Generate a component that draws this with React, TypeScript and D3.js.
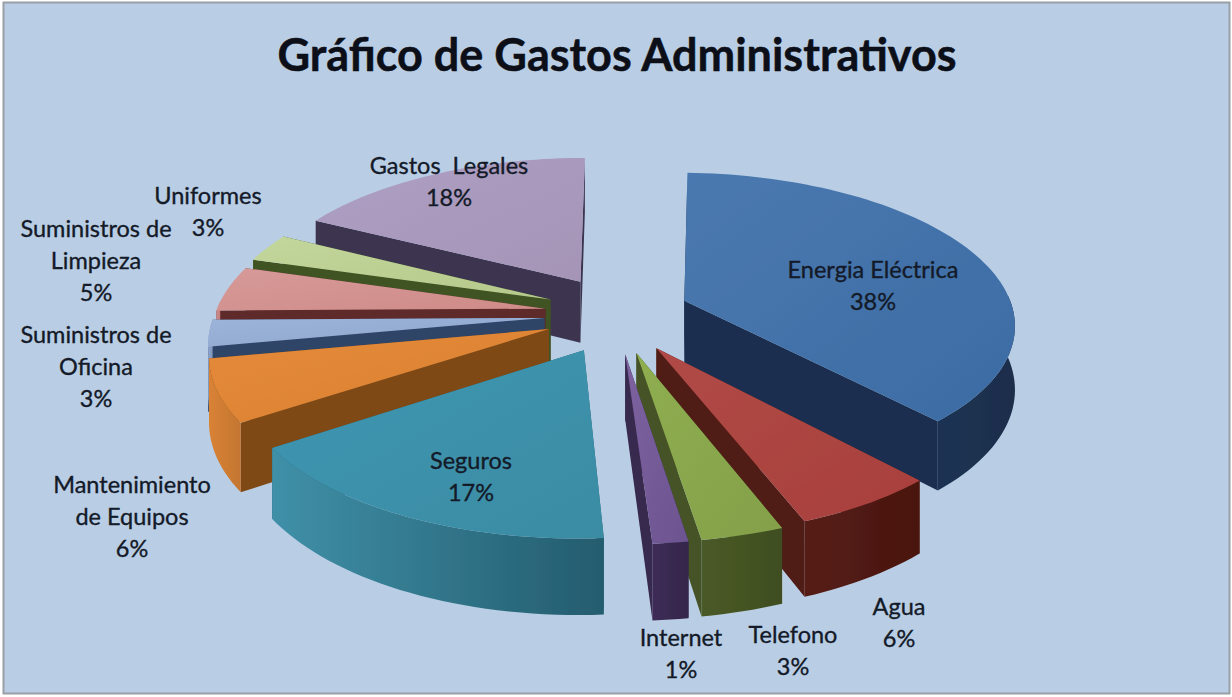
import React from "react";
import * as d3 from "d3";

const W = 1232, H = 697;
const title = "Gráfico de Gastos Administrativos";
const categories = ["Energia Eléctrica","Agua","Telefono","Internet","Seguros","Mantenimiento de Equipos","Suministros de Oficina","Suministros de Limpieza","Uniformes","Gastos Legales"];
const values = [37.8, 6.0, 3.4, 1.45, 16.7, 6.5, 2.8, 4.8, 3.05, 17.5];
const percentLabels = ["38%","6%","3%","1%","17%","6%","3%","5%","3%","18%"];
const labelLines = [["Energia Eléctrica"],["Agua"],["Telefono"],["Internet"],["Seguros"],["Mantenimiento","de Equipos"],["Suministros de","Oficina"],["Suministros de","Limpieza"],["Uniformes"],["Gastos  Legales"]];
const labelAnchors = [[873,278],[899,615],[793,643],[681,646],[471,469],[132,493],[96,343],[96,237],[208,204],[449,174]];
const topColors = [["#4a79b0","#3c6ba3"],["#b04a46","#a8403d"],["#8fae50","#84a04a"],["#7d62a0","#6c5490"],["#3f96b2","#3a8ca3"],["#e58a38","#d98134"],["#9cb3da","#8ea5cc"],["#d69a98","#cf8b88"],["#c3d69b","#b5c98c"],["#ad9fc4","#a594b6"]];
const wallColors = ["#1a2f4f","#4f1a14","#445325","#38294f","#256274","#7f4a17","#2f4468","#5e2a2a","#3f5224","#3d3550"];
const outerColors = [["#1a3254","#1a2e4a"],["#561c14","#4a1710"],["#4a5a26","#3f4e20"],["#3d2c56","#35264a"],["#3f90a8","#245c6e"],["#d88236","#c47630"],["#8ea5cc","#7f95bd"],["#cf8b88","#c07e7c"],["#b5c98c","#a5b87e"],["#a594b6","#9485a6"]];

const deg = Math.PI / 180;
const cx = 617, cy = 314, R = 330, tiltR = 150, D = 7, depth = 63, explodeX = 0.22, explodeY = 0.26;
const pieGen = d3.pie<number>().sort(null).value(d => d).startAngle(2.3 * deg).endAngle(360 * deg);
const arcs = pieGen(values);

type Pt = [number, number];
function project(gx: number, gy: number, h: number): Pt {
  const s = D / (D + gy);
  return [cx + gx * s * R, cy - tiltR * gy * s + h * depth * s];
}
const line = d3.line<Pt>().x(p => p[0]).y(p => p[1]);

export default function App() {
  const slices = arcs.map((a, i) => {
    const mid = (a.startAngle + a.endAngle) / 2;
    const ox = Math.sin(mid) * explodeX, oy = Math.cos(mid) * explodeY;
    const pt = (t: number, r: number, h: number) => project(ox + r * Math.sin(t), oy + r * Math.cos(t), h);
    const n = Math.max(4, Math.ceil((a.endAngle - a.startAngle) / 0.03));
    const ts = d3.range(n + 1).map(k => a.startAngle + (a.endAngle - a.startAngle) * k / n);
    const top: Pt[] = [pt(0, 0, 0), ...ts.map(t => pt(t, 1, 0))];
    const frontTs = ts.filter(t => Math.cos(t) <= 0.05);
    const outer: Pt[] = [...frontTs.map(t => pt(t, 1, 0)), ...frontTs.slice().reverse().map(t => pt(t, 1, 1))];
    const wallAt = (t: number): Pt[] => [pt(0, 0, 0), pt(t, 1, 0), pt(t, 1, 1), pt(0, 0, 1)];
    const xs = outer.map(p => p[0]);
    const rightSide = mid < Math.PI;
    return { i, mid, top, outer, hidden: wallAt(rightSide ? a.startAngle : a.endAngle), shown: wallAt(rightSide ? a.endAngle : a.startAngle), x0: d3.min(xs) ?? 0, x1: d3.max(xs) ?? 1 };
  });
  const order = slices.slice().sort((p, q) => Math.cos(q.mid) - Math.cos(p.mid));
  return (
    <svg width={W} height={H} style={{ position: "absolute", left: 0, top: 0, display: "block" }} fontFamily="Lato, Carlito, sans-serif">
      <defs>
        <filter id="soft" x="-5%" y="-5%" width="110%" height="110%"><feGaussianBlur stdDeviation="0.7" /></filter>
        {slices.map(s => (
          <React.Fragment key={s.i}>
            <linearGradient id={`t${s.i}`} x1="0" y1="0" x2="1" y2="1">
              <stop offset="0" stopColor={topColors[s.i][0]} />
              <stop offset="1" stopColor={topColors[s.i][1]} />
            </linearGradient>
            <linearGradient id={`o${s.i}`} gradientUnits="userSpaceOnUse" x1={s.x0} y1="0" x2={s.x1} y2="0">
              <stop offset="0" stopColor={outerColors[s.i][0]} />
              <stop offset="1" stopColor={outerColors[s.i][1]} />
            </linearGradient>
          </React.Fragment>
        ))}
      </defs>
      <rect x="0" y="0" width={W} height={H} fill="#ffffff" />
      <rect x="3.5" y="2.5" width={W - 6} height={H - 6} fill="#b9cee5" stroke="#9a9fa6" strokeWidth="2" />
      <g filter="url(#soft)">
        {order.map(s => (
          <g key={s.i}>
            <path d={line(s.hidden)! + "Z"} fill={wallColors[s.i]} />
            <path d={line(s.shown)! + "Z"} fill={wallColors[s.i]} />
            {s.outer.length > 2 && <path d={line(s.outer)! + "Z"} fill={`url(#o${s.i})`} />}
            <path d={line(s.top)! + "Z"} fill={`url(#t${s.i})`} />
          </g>
        ))}
      </g>
      <text x={617} y={71} textAnchor="middle" fontSize={45} fontWeight={700} fill="#0c0f18" stroke="#0c0f18" strokeWidth={0.5}>{title}</text>
      {categories.map((c, i) => {
        const [x, y] = labelAnchors[i];
        const lines = [...labelLines[i], percentLabels[i]];
        return (
          <text key={c} x={x} y={y} textAnchor="middle" fontSize={23.5} fill="#141a28" stroke="#141a28" strokeWidth={0.35}>
            {lines.map((l, k) => <tspan key={k} x={x} y={y + k * 32} xmlSpace="preserve">{l}</tspan>)}
          </text>
        );
      })}
    </svg>
  );
}
